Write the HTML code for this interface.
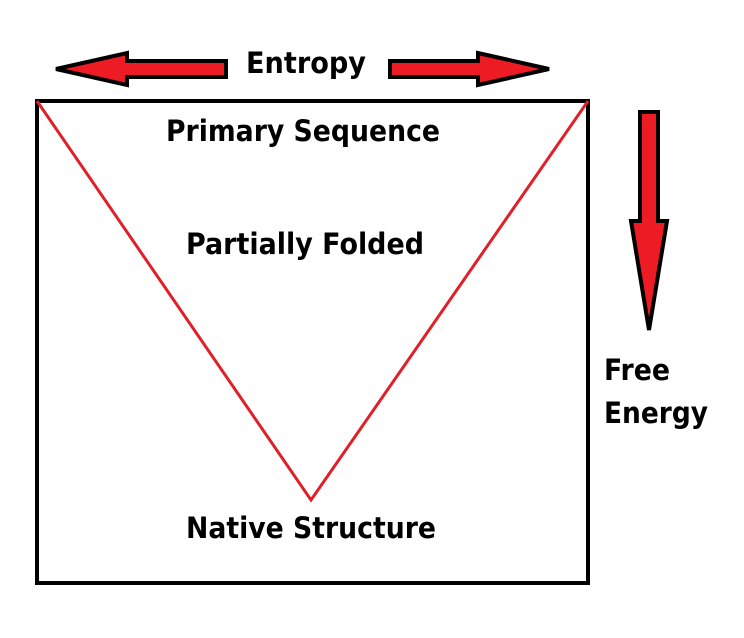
<!DOCTYPE html>
<html><head><meta charset="utf-8"><style>html,body{margin:0;padding:0;background:#fff}</style></head>
<body>
<svg width="744" height="633" viewBox="0 0 744 633" xmlns="http://www.w3.org/2000/svg">
<rect x="0" y="0" width="744" height="633" fill="#fff"/>
<rect x="37" y="101" width="551" height="482" fill="none" stroke="#000" stroke-width="4"/>
<polyline points="37,101 311,500 588,101" fill="none" stroke="#e02028" stroke-width="3"/>
<g fill="#ed1c24" stroke="#000" stroke-width="4" stroke-linejoin="miter">
<polygon points="56,69 127,53 127,61 226,61 226,77 127,77 127,85"/>
<polygon points="549,69 478,53 478,61 390,61 390,77 478,77 478,85"/>
<polygon points="640,112 658,112 658,221 667,221 649,330 631,221 640,221"/>
</g>
<g font-family="DejaVu Sans, sans-serif" font-weight="bold" font-size="29" fill="#000">
<text x="246" y="73" textLength="120" lengthAdjust="spacingAndGlyphs">Entropy</text>
<text x="166" y="141" textLength="274" lengthAdjust="spacingAndGlyphs">Primary Sequence</text>
<text x="186" y="254" textLength="238" lengthAdjust="spacingAndGlyphs">Partially Folded</text>
<text x="186" y="538" textLength="250" lengthAdjust="spacingAndGlyphs">Native Structure</text>
<text x="604" y="380" textLength="66" lengthAdjust="spacingAndGlyphs">Free</text>
<text x="604" y="423" textLength="104" lengthAdjust="spacingAndGlyphs">Energy</text>
</g>
</svg>
</body></html>
